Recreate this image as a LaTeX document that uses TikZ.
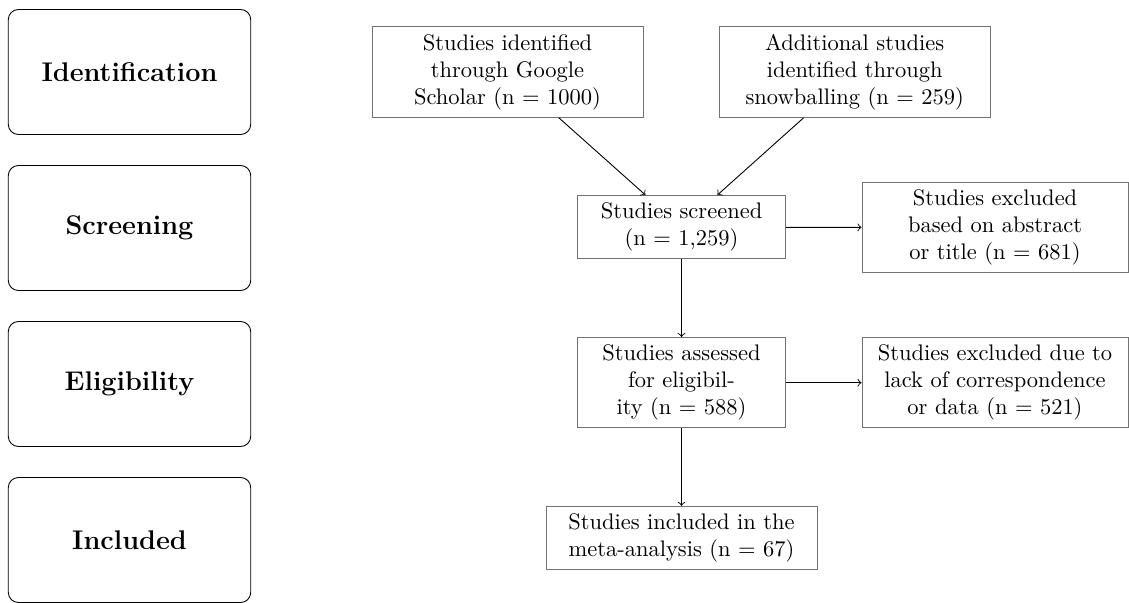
\documentclass[tikz,border=0pt]{standalone}
\begin{document}
\begin{tikzpicture}[x=0.015626cm,y=-0.015626cm,
  stage/.style={draw=black,rounded corners=4.5pt,minimum width=3.788cm,minimum height=1.953cm,inner sep=0pt,font=\large\bfseries},
  flowbox/.style={draw=black!55,align=center,inner sep=0.3333em},
  wide/.style={flowbox,minimum width=4.235cm},
  narrow/.style={flowbox,minimum width=3.256cm},
  excl/.style={flowbox,minimum width=4.157cm},
  arr/.style={->,black}]
\useasboundingbox (0,0) rectangle (1129,603);
\node[stage] (identification) at (129.5,72) {Identification};
\node[stage] (screening) at (129.5,228) {Screening};
\node[stage] (eligibility) at (129.5,384) {Eligibility};
\node[stage] (included) at (129.5,540) {Included};

\node[wide] (google) at (507.5,72) {Studies identified\\through Google\\Scholar (n = 1000)};
\node[wide] (snow) at (854.7,72) {Additional studies\\identified through\\snowballing (n = 259)};
\node[narrow] (screened) at (681.5,227.2) {Studies screened\\(n = 1,259)};
\node[excl] (excl1) at (995,227.5) {Studies excluded\\based on abstract\\or title (n = 681)};
\node[narrow] (assessed) at (681.5,382.7) {Studies assessed\\for eligibil-\\ity (n = 588)};
\node[excl] (excl2) at (995,382.7) {Studies excluded due to\\lack of correspondence\\or data (n = 521)};
\node[wide] (meta) at (681.5,538) {Studies included in the\\meta-analysis (n = 67)};

\draw[arr] (google) -- (screened);
\draw[arr] (snow) -- (screened);
\draw[arr] (screened) -- (excl1);
\draw[arr] (screened) -- (assessed);
\draw[arr] (assessed) -- (excl2);
\draw[arr] (assessed) -- (meta);
\end{tikzpicture}
\end{document}
